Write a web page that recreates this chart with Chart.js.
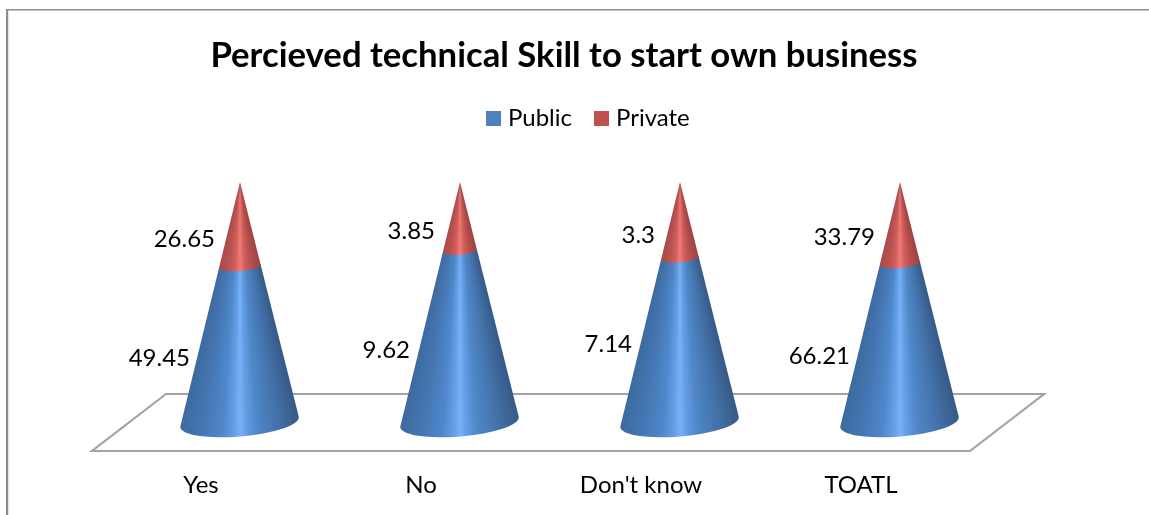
<!DOCTYPE html>
<html><head><meta charset="utf-8">
<style>html,body{margin:0;padding:0;background:#fff}canvas{display:block}</style>
<script src="https://cdn.jsdelivr.net/npm/chart.js@4/dist/chart.umd.min.js"></script>
</head><body>
<div style="width:1149px;height:515px"><canvas id="c" width="1149" height="515"></canvas></div>
<script>
const categories = ["Yes", "No", "Don't know", "TOATL"];
const publicValues = [49.45, 9.62, 7.14, 66.21];
const privateValues = [26.65, 3.85, 3.3, 33.79];
const titleText = "Percieved technical Skill to start own business";
const FONT = "Lato, Carlito, sans-serif";

const publicShare = publicValues.map((v, i) => v / (v + privateValues[i]) * 100);
const privateShare = privateValues.map((v, i) => v / (publicValues[i] + v) * 100);

const BLUE = [[-1,'#3d699e'],[-.6,'#4577b4'],[-.28,'#4f88cb'],[-.1,'#659fe6'],[0,'#78b1f6'],[.1,'#659ee4'],[.28,'#4f87c8'],[.6,'#4474ad'],[1,'#365a85']];
const RED  = [[-1,'#a84a48'],[-.55,'#bb5350'],[-.25,'#cf5f5c'],[0,'#f27a76'],[.25,'#cf5f5c'],[.55,'#b84f4c'],[1,'#9a4341']];
const TILT = -4.8 * Math.PI / 180, RX = 59.5, RY = 14.5;

function shade(ctx, ax, ay, h, stops) {
  const theta = Math.atan(RX / h);
  const g = ctx.createConicGradient(Math.PI / 2 - theta, ax, ay);
  const span = 2 * theta / (2 * Math.PI);
  stops.slice().reverse().forEach(([u, col]) => g.addColorStop((1 - u) / 2 * span, col));
  g.addColorStop(span + 0.001, stops[0][1]);
  g.addColorStop(1 - 0.001, stops[stops.length - 1][1]);
  return g;
}
function ends(cx, cy, k) {
  const c = Math.cos(TILT) * RX * k, s = Math.sin(TILT) * RX * k;
  return { l: [cx - c, cy - s], r: [cx + c, cy + s] };
}

const conePlugin = {
  id: 'cones',
  afterLayout(chart) {
    chart.titleBlock.left = -10.5; chart.titleBlock.right = 1138.5;
  },
  beforeDraw(chart) {
    const { ctx, width, height } = chart;
    ctx.save();
    ctx.fillStyle = '#fff'; ctx.fillRect(0, 0, width, height);
    ctx.fillStyle = '#8c8c8c';
    ctx.fillRect(6, 9, width - 6, 1.5);
    ctx.fillRect(6, 9, 2.2, height - 9);
    ctx.restore();
  },
  beforeDatasetsDraw(chart) {
    const { ctx, chartArea: a } = chart;
    ctx.save();
    ctx.strokeStyle = '#a3a3a3'; ctx.lineWidth = 2.2; ctx.lineJoin = 'miter';
    ctx.beginPath();
    ctx.moveTo(a.left - 38, a.bottom + 29);
    ctx.lineTo(a.right - 40, a.bottom + 29);
    ctx.lineTo(a.right + 34, a.bottom - 28);
    ctx.lineTo(a.left + 36, a.bottom - 28);
    ctx.closePath(); ctx.stroke();

    const pub = chart.getDatasetMeta(0).data, pri = chart.getDatasetMeta(1).data;
    pub.forEach((b, i) => {
      const cx = b.x - 0.5, base = b.base, ax = b.x, ay = pri[i].y, H = base - ay;
      const t = (base - b.y) / H, k = 1 - t;
      const mx = cx + (ax - cx) * t, my = b.y;
      const B = ends(cx, base, 1), M = ends(mx, my, k);
      ctx.fillStyle = shade(ctx, ax, ay, H, BLUE);
      ctx.beginPath();
      ctx.moveTo(...M.l); ctx.lineTo(...B.l);
      ctx.ellipse(cx, base, RX, RY, TILT, Math.PI, 0, true);
      ctx.lineTo(...M.r); ctx.closePath(); ctx.fill();
      ctx.fillStyle = shade(ctx, ax, ay, H, RED);
      ctx.beginPath();
      ctx.moveTo(ax, ay); ctx.lineTo(...M.l);
      ctx.ellipse(mx, my, RX * k, RY * k, TILT, Math.PI, 0, true);
      ctx.closePath(); ctx.fill();
    });
    ctx.restore();
  },
  beforeDatasetDraw() { return false; },
  afterDatasetsDraw(chart) {
    const { ctx } = chart;
    ctx.save();
    ctx.fillStyle = '#000';
    ctx.font = '24px ' + FONT;
    ctx.textAlign = 'right'; ctx.textBaseline = 'middle';
    const pub = chart.getDatasetMeta(0).data, pri = chart.getDatasetMeta(1).data;
    publicValues.forEach((v, i) => {
      const nudge = i === 2 ? 4 : 14;
      ctx.fillText(String(v), pub[i].x - (i === 2 ? 48 : 50), (pub[i].y + pub[i].base) / 2 + nudge);
    });
    privateValues.forEach((v, i) => {
      ctx.fillText(String(v), pri[i].x - 25, (pri[i].y + pri[i].base) / 2 + 15);
    });
    ctx.textAlign = 'left';
    let x = 486;
    chart.data.datasets.forEach(d => {
      ctx.fillStyle = d.backgroundColor;
      ctx.fillRect(x, 111, 15, 15);
      ctx.fillStyle = '#000';
      ctx.fillText(d.label, x + 22, 118.5);
      x += 108;
    });
    ctx.restore();
  }
};

new Chart(document.getElementById('c'), {
  type: 'bar',
  plugins: [conePlugin],
  data: {
    labels: categories,
    datasets: [
      { label: 'Public', data: publicShare, backgroundColor: '#4f81bd' },
      { label: 'Private', data: privateShare, backgroundColor: '#c0504d' }
    ]
  },
  options: {
    responsive: false,
    animation: false,
    layout: { padding: { left: 130, right: 139, top: 0, bottom: 0 } },
    plugins: {
      legend: { display: false },
      tooltip: { enabled: false },
      title: {
        display: true, text: titleText, color: '#000',
        font: { family: FONT, size: 34.7, weight: 'bold' },
        padding: { top: 35, bottom: 105.36 }
      }
    },
    scales: {
      x: {
        stacked: true,
        afterFit(scale) { scale.height = 93; },
        grid: { display: false, drawTicks: false },
        border: { display: false },
        ticks: { color: '#000', font: { family: FONT, size: 24 }, padding: 49, labelOffset: -39, maxRotation: 0, autoSkip: false }
      },
      y: { stacked: true, display: false, min: 0, max: 100 }
    }
  }
});
</script>
</body></html>
